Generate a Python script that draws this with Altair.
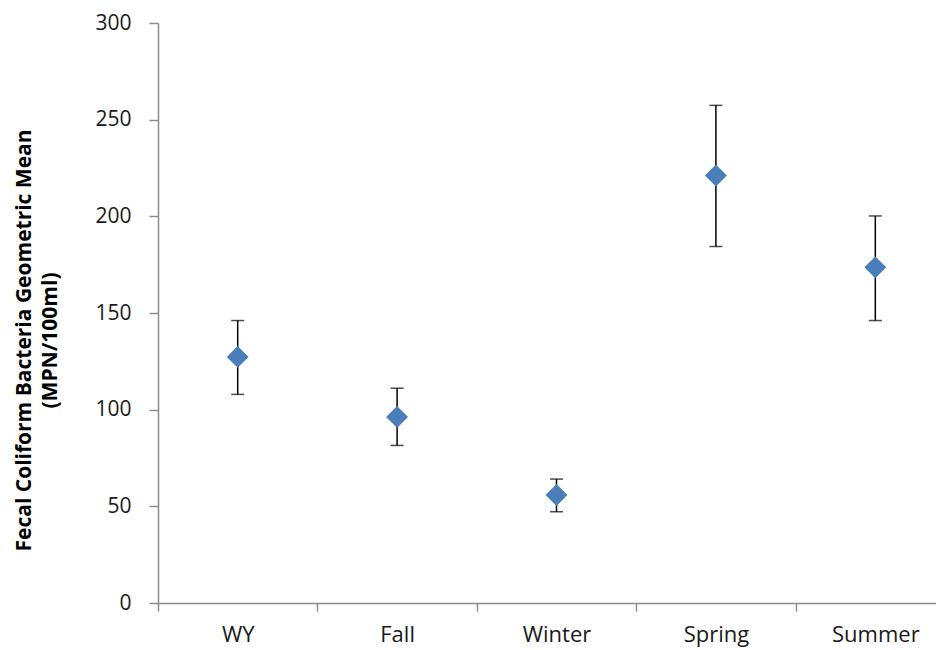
import altair as alt
import pandas as pd

seasons = ["WY", "Fall", "Winter", "Spring", "Summer"]
geo_mean = [127.3, 96.2, 55.9, 221.1, 173.6]
upper = [146.1, 111.1, 64.1, 257.4, 200.2]
lower = [107.9, 81.5, 47.2, 184.4, 146.1]
y_ticks = [0, 50, 100, 150, 200, 250, 300]

df = pd.DataFrame({"Season": seasons, "Mean": geo_mean, "Upper": upper, "Lower": lower})

FONT = "Open Sans"
x_enc = alt.X(
    "Season:N",
    sort=seasons,
    scale=alt.Scale(range=[0, 797], paddingInner=0, paddingOuter=0),
    axis=alt.Axis(
        title=None,
        labelAngle=0,
        labelFont=FONT,
        labelFontSize=22,
        labelColor="#1a1a1a",
        labelPadding=13,
        tickBand="extent",
        tickSize=8,
        tickColor="#8c8c8c",
        tickWidth=1.5,
        domainColor="#8c8c8c",
        domainWidth=1.5,
        grid=False,
    ),
)

y_scale = alt.Scale(domain=[0, 300], nice=False, zero=True)
y_axis = alt.Axis(
    title=["Fecal Coliform Bacteria Geometric Mean", "(MPN/100ml)"],
    values=y_ticks,
    labelFont=FONT,
    labelFontSize=21,
    labelColor="#1a1a1a",
    labelPadding=18,
    tickSize=9,
    tickColor="#8c8c8c",
    tickWidth=1.5,
    domainColor="#8c8c8c",
    domainWidth=1.5,
    grid=False,
    titleFont=FONT,
    titleFontSize=21,
    titleFontWeight="bold",
    titleColor="#000000",
    titleAngle=-90,
    titleAlign="center",
    titleLineHeight=26,
    titleX=-124,
    titleY=317,
)

base = alt.Chart(df)

rules = base.mark_rule(color="#000000", strokeWidth=1.5).encode(
    x=x_enc,
    y=alt.Y("Lower:Q", scale=y_scale, axis=y_axis),
    y2="Upper:Q",
)
cap_hi = base.mark_tick(color="#000000", thickness=1.5, size=13).encode(
    x=alt.X("Season:N", sort=seasons), y=alt.Y("Upper:Q")
)
cap_lo = base.mark_tick(color="#000000", thickness=1.5, size=13).encode(
    x=alt.X("Season:N", sort=seasons), y=alt.Y("Lower:Q")
)
points = base.mark_point(
    shape="diamond", filled=True, size=480, color="#4A7EBB", opacity=1
).encode(x=alt.X("Season:N", sort=seasons), y=alt.Y("Mean:Q"))

chart = (
    alt.layer(rules, cap_hi, cap_lo, points)
    .properties(
        width=778,
        height=580,
        autosize=alt.AutoSizeParams(type="none"),
        padding={"left": 150, "top": 15, "right": 0, "bottom": 46},
    )
    .configure_view(stroke=None)
)

chart.save("out.html", embed_options={"renderer": "svg", "actions": False})
